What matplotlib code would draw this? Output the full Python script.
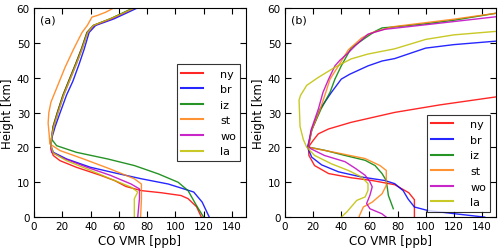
import numpy as np
import matplotlib
matplotlib.use("Agg")
import matplotlib.pyplot as plt

names = ["ny", "br", "iz", "st", "wo", "la"]
colors = ["#ff0000", "#0000ff", "#008000", "#ff7f0e", "#bf00bf", "#bfbf00"]

# panel (a): (x ppb, height km)
a_ny = [(118.4, 0), (115, 3), (109, 5.3), (104, 6.2), (90, 7), (76, 7.6), (65, 8.8), (57, 10.5),
        (47, 12), (30, 14.3), (18.4, 16.2), (13.6, 17.7), (12, 19.5), (12.2, 22), (13.5, 26),
        (16.5, 30), (20.5, 35), (24.5, 39), (29.5, 44), (33.5, 48.2), (37.5, 53), (42, 55),
        (54, 56.9), (70, 59.8), (71, 60)]
a_br = [(124, 0), (119, 4.3), (113, 7.2), (95, 9.5), (76, 11), (57, 12.7), (40, 14.3),
        (23, 16.7), (13.6, 18.6), (12, 20.5), (12.8, 23), (15, 26), (18.5, 30), (23, 35),
        (27.5, 39), (32, 44), (35.5, 48.2), (39, 53), (43.6, 55), (56.6, 56.9), (72, 59.8),
        (73, 60)]
a_iz = [(120, 0), (115, 3.3), (109, 7.6), (102, 10), (88, 12.4), (71, 14.8), (52, 16.7),
        (30, 18.6), (16, 20.5), (12.4, 22.4), (13.5, 26), (16.5, 30), (20.5, 35), (24.5, 39),
        (29.5, 44), (33.5, 48.2), (37.5, 53), (42, 55), (54, 56.9), (69, 59.8), (70, 60)]
a_st = [(75.4, 0), (76, 5), (76, 9.5), (71, 11), (54, 13.8), (35, 16.7), (18.4, 19.1),
        (11.2, 21), (10.8, 23.4), (10, 27), (10.5, 30), (12, 33), (15, 36), (17.7, 38.7),
        (22, 43), (28, 48.2), (34, 53), (37.7, 55), (41, 57.4), (45, 57.9), (50.7, 58.8),
        (55.4, 59.8), (56, 60)]
a_wo = [(73.4, 0), (74.6, 5.3), (74.6, 8.1), (68.7, 9.5), (54, 12), (37.5, 14.3), (20.8, 16.9),
        (12.4, 18.6), (12, 20.5), (12.5, 23), (14, 26), (17, 30), (21, 35), (25, 39),
        (30, 44), (34, 48.2), (38, 53), (42.5, 55), (55, 56.9), (70, 59.8), (71, 60)]
a_la = [(71, 0), (71, 5.3), (73.4, 7.2), (68.7, 8.6), (54, 11), (40, 13.4), (23, 16.2),
        (13.6, 18.4), (12, 20.5), (12.5, 23), (14, 26), (17, 30), (21, 35), (25, 39),
        (30, 44), (34, 48.2), (38, 53), (42, 55), (54, 56.9), (70, 59.8), (71, 60)]

# panel (b)
b_ny = [(92, 0), (92, 5), (88, 7), (78, 9.3), (62, 10.5), (47, 11.3), (31, 12.5), (21, 14.8),
        (17, 17.7), (16.6, 20.1), (20, 22), (23.7, 23.9), (31, 25.3), (47, 27.2), (78, 30.05),
        (110, 32.2), (150, 34.5)]
b_br = [(142, 0), (120, 1), (101.5, 1.9), (92, 2.9), (87.5, 5.2), (84, 7.6), (78, 9.6),
        (71, 10.5), (54.5, 11.5), (38, 13), (26, 15), (19, 17.2), (16, 20.1), (19, 25),
        (24.9, 31), (33, 35.8), (40, 39.6), (46, 41), (59, 43.4), (69, 44.8), (78, 45.5),
        (100, 48.5), (120, 49.5), (150, 50.5)]
b_iz = [(77, 2.4), (73.5, 6.2), (72, 10.5), (69, 12.5), (64, 14.8), (57, 16.3), (42.6, 17.7),
        (28, 19.2), (16.6, 20.1), (19, 25), (25.6, 31), (32, 35.8), (35.5, 39.6), (40, 43.4),
        (47, 48.5), (57, 51.4), (64, 53.3), (69, 54.3), (78, 54.6), (100, 55.5), (120, 56.5),
        (150, 58.5)]
b_st = [(52.6, 0), (53, 0.5), (55.7, 2.9), (62, 4.3), (69, 6.7), (72, 9.1), (72, 13.4),
        (67.5, 14.8), (57, 16.8), (40, 18.2), (21, 19.7), (16.6, 20.1), (19, 25), (25, 31),
        (29, 35.8), (32, 39.6), (38, 43.4), (45, 48), (54.5, 51.4), (61.6, 52.9), (76, 54.6),
        (100, 55.8), (120, 56.8), (150, 58.5)]
b_wo = [(72, 0), (68.7, 1), (60.4, 2.4), (58, 3.9), (60.4, 6.3), (62, 8.7), (60.4, 10.1),
        (57, 12), (50, 14), (42.7, 15.9), (28, 17.7), (18, 19.7), (16.6, 20.5), (18.5, 25),
        (23.7, 31), (27, 35.8), (31, 39.6), (35.5, 43.4), (39, 45), (44, 46.8), (51, 49.6),
        (59, 52.5), (71, 53.9), (100, 55.2), (150, 57.5)]
b_la = [(40, 0), (44, 1.5), (51, 4.8), (57, 5.8), (59, 7.7), (59, 9.6), (54.5, 11.5),
        (45, 13.4), (33, 15.3), (21, 17.7), (15.4, 20.1), (13, 22.3), (10.7, 26), (10, 33.6),
        (11, 34.9), (15.4, 37.8), (23.7, 40.1), (35.5, 43), (47, 45.4), (59, 46.8), (78, 48.3),
        (100, 51), (120, 52.3), (150, 53.3)]

panel_a = [a_ny, a_br, a_iz, a_st, a_wo, a_la]
panel_b = [b_ny, b_br, b_iz, b_st, b_wo, b_la]

plt.rcParams["font.family"] = "DejaVu Sans"
fig = plt.figure(figsize=(5.0, 2.51), dpi=100)
ax1 = fig.add_axes([0.068, 0.131, 0.424, 0.833])
ax2 = fig.add_axes([0.570, 0.131, 0.422, 0.833])

for ax, panel, tag, loc in [(ax1, panel_a, "(a)", "center right"),
                            (ax2, panel_b, "(b)", "lower right")]:
    for name, c, prof in zip(names, colors, panel):
        p = np.array(prof)
        ax.plot(p[:, 0], p[:, 1], color=c, lw=1.0, alpha=0.85, label=name)
    ax.set_xlim(0, 150)
    ax.set_ylim(0, 60)
    ax.set_xticks(range(0, 141, 20))
    ax.set_yticks(range(0, 61, 10))
    ax.tick_params(direction="in", top=True, right=True, labelsize=7.5, length=4, pad=3)
    ax.set_xlabel("CO VMR [ppb]", fontsize=8.5, labelpad=2)
    ax.set_ylabel("Height [km]", fontsize=8.5, labelpad=2)
    for s in ax.spines.values():
        s.set_linewidth(0.8)
    ax.text(0.03, 0.97, tag, transform=ax.transAxes, ha="left", va="top", fontsize=8)
    leg = ax.legend(loc=loc, fontsize=8, fancybox=False, handlelength=2.0,
                    labelspacing=0.5, borderaxespad=0.5, handletextpad=1.5)
    leg.get_frame().set_edgecolor("black")
    leg.get_frame().set_linewidth(0.8)
    for line in leg.get_lines():
        line.set_linewidth(1.5)

fig.savefig("out.png", dpi=100)
